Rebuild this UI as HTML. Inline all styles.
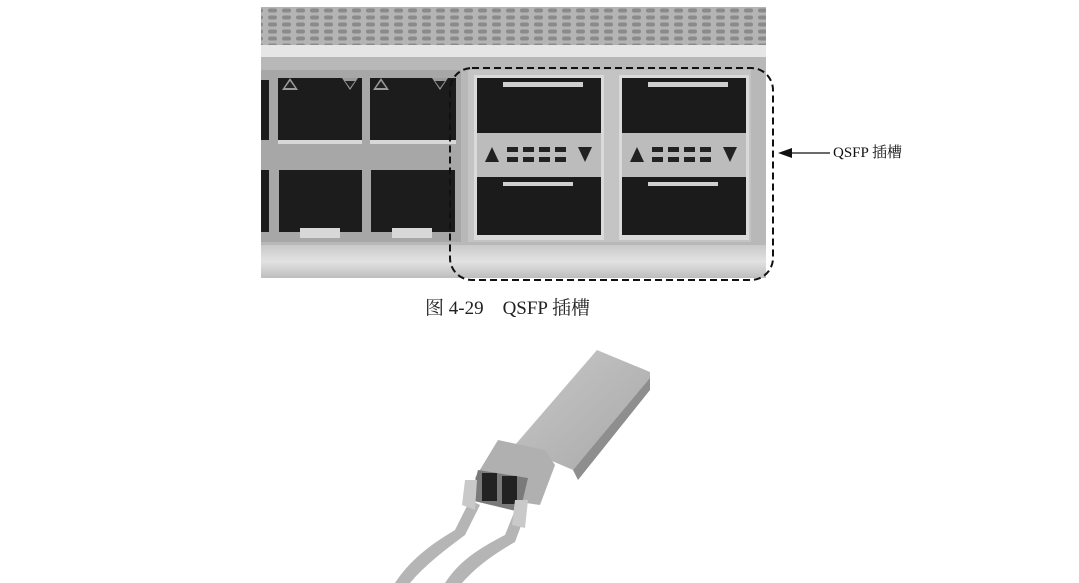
<!DOCTYPE html>
<html><head><meta charset="utf-8"><style>
html,body{margin:0;padding:0;background:#fff;}
body{width:1079px;height:583px;overflow:hidden;position:relative;font-family:"Liberation Serif","Noto Serif CJK SC",serif;}
</style></head><body>
<svg width="1079" height="583" viewBox="0 0 1079 583" xmlns="http://www.w3.org/2000/svg" style="position:absolute;left:0;top:0">
<defs>
<pattern id="perf" width="14" height="7" patternUnits="userSpaceOnUse">
<rect width="14" height="7" fill="#b4b4b4"/>
<rect x="2" y="1.5" width="9" height="4" rx="2" fill="#8a8a8a"/>
</pattern>
<linearGradient id="bot" x1="0" y1="0" x2="0" y2="1">
<stop offset="0" stop-color="#c9c9c9"/><stop offset="0.5" stop-color="#e2e2e2"/><stop offset="1" stop-color="#bdbdbd"/>
</linearGradient>
<linearGradient id="mod" x1="0" y1="0" x2="1" y2="1">
<stop offset="0" stop-color="#c8c8c8"/><stop offset="1" stop-color="#a8a8a8"/>
</linearGradient>
</defs>
<rect x="261" y="7" width="505" height="38" fill="url(#perf)"/>
<rect x="261" y="45" width="505" height="12" fill="#e6e6e6"/>
<rect x="261" y="57" width="505" height="190" fill="#b8b8b8"/>
<rect x="261" y="245" width="505" height="33" fill="url(#bot)"/>
<rect x="261" y="70" width="200" height="172" fill="#a7a7a7"/>
<g fill="#1c1c1c">
<rect x="261" y="80" width="8" height="60"/>
<rect x="278" y="78" width="84" height="62"/>
<rect x="370" y="78" width="86" height="62"/>
<rect x="261" y="170" width="8" height="62"/>
<rect x="279" y="170" width="83" height="62"/>
<rect x="371" y="170" width="84" height="62"/>
</g>
<g fill="#d8d8d8">
<rect x="278" y="140" width="84" height="4"/><rect x="370" y="140" width="86" height="4"/>
<rect x="300" y="228" width="40" height="10"/><rect x="392" y="228" width="40" height="10"/>
</g>
<g fill="#9a9a9a"><polygon points="282,90 290,78 298,90"/><polygon points="342,78 358,78 350,90"/><polygon points="373,90 381,78 389,90"/><polygon points="432,78 448,78 440,90"/></g>
<g fill="#222"><polygon points="285,88 290,81 295,88"/><polygon points="345,81 355,81 350,88"/><polygon points="376,88 381,81 386,88"/><polygon points="435,81 445,81 440,88"/></g>
<g>
<rect x="468" y="70" width="283" height="172" fill="#c4c4c4"/>
<rect x="474" y="75" width="130" height="165" fill="#dadada"/>
<rect x="619" y="75" width="130" height="165" fill="#dadada"/>
<rect x="477" y="78" width="124" height="55" fill="#1b1b1b"/>
<rect x="622" y="78" width="124" height="55" fill="#1b1b1b"/>
<rect x="477" y="177" width="124" height="58" fill="#1b1b1b"/>
<rect x="622" y="177" width="124" height="58" fill="#1b1b1b"/>
<rect x="503" y="82" width="80" height="5" fill="#cfcfcf"/>
<rect x="648" y="82" width="80" height="5" fill="#cfcfcf"/>
<rect x="503" y="182" width="70" height="4" fill="#cfcfcf"/>
<rect x="648" y="182" width="70" height="4" fill="#cfcfcf"/>
<rect x="477" y="133" width="124" height="44" fill="#bcbcbc"/>
<rect x="622" y="133" width="124" height="44" fill="#bcbcbc"/>
<g fill="#222">
<polygon points="485,162 492,147 499,162"/><polygon points="578,147 592,147 585,162"/>
<polygon points="630,162 637,147 644,162"/><polygon points="723,147 737,147 730,162"/>
<rect x="507" y="147" width="11" height="5"/><rect x="523" y="147" width="11" height="5"/><rect x="539" y="147" width="11" height="5"/><rect x="555" y="147" width="11" height="5"/>
<rect x="507" y="157" width="11" height="5"/><rect x="523" y="157" width="11" height="5"/><rect x="539" y="157" width="11" height="5"/><rect x="555" y="157" width="11" height="5"/>
<rect x="652" y="147" width="11" height="5"/><rect x="668" y="147" width="11" height="5"/><rect x="684" y="147" width="11" height="5"/><rect x="700" y="147" width="11" height="5"/>
<rect x="652" y="157" width="11" height="5"/><rect x="668" y="157" width="11" height="5"/><rect x="684" y="157" width="11" height="5"/><rect x="700" y="157" width="11" height="5"/>
</g>
</g>
<rect x="450" y="68" width="323" height="212" rx="22" fill="none" stroke="#111" stroke-width="2" stroke-dasharray="7,4"/>
<line x1="830" y1="153" x2="788" y2="153" stroke="#111" stroke-width="1.3"/>
<polygon points="778,153 792,148 792,158" fill="#111"/>
<text x="833" y="157" font-size="15" fill="#111">QSFP 插槽</text>
<text x="425" y="314" font-size="19" fill="#222">图 4-29 &#160;&#160; QSFP 插槽</text>
<g>
<path d="M395,583 C410,560 430,545 455,530 L470,500 L480,505 L465,535 C445,550 425,565 410,583 Z" fill="#b5b5b5"/>
<path d="M445,583 C460,560 480,548 505,535 L515,510 L525,515 L515,542 C492,555 475,568 462,583 Z" fill="#b5b5b5"/>
<polygon points="597,350 650,372 650,380 573,470 515,445" fill="url(#mod)"/>
<polygon points="650,378 650,390 578,480 573,470" fill="#8e8e8e"/>
<polygon points="498,440 545,450 555,465 540,505 492,498 475,478" fill="#b0b0b0"/>
<polygon points="478,470 528,478 520,512 470,500" fill="#7a7a7a"/>
<rect x="482" y="473" width="15" height="28" fill="#222"/>
<rect x="502" y="476" width="15" height="28" fill="#222"/>
<polygon points="465,480 477,480 475,510 462,505" fill="#c9c9c9"/>
<polygon points="515,500 528,500 525,528 512,525" fill="#c9c9c9"/>
</g>
</svg>
</body></html>
